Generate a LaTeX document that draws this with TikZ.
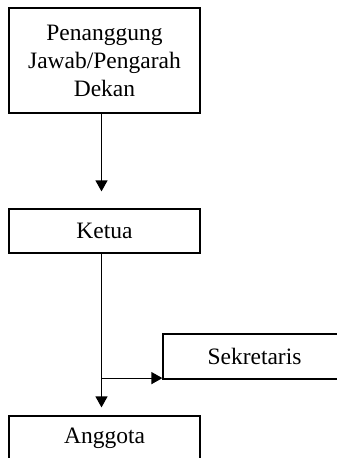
\documentclass[tikz,border=0pt]{standalone}
\usepackage{fontspec}
\setmainfont{Liberation Serif}
\usetikzlibrary{positioning}
\usetikzlibrary{arrows.meta}

\tikzset{
    box/.style={draw, line width=1.2pt, minimum width=191pt, inner sep=0pt, align=center,
        font=\fontsize{23.5}{28}\selectfont},
    arr/.style={line width=1.2pt, -{Triangle[width=12pt,length=11pt]}}
}

\begin{document}
\begin{tikzpicture}[x=1pt, y=-1pt]

    \useasboundingbox (0,0) rectangle (337,458);
    \clip (0,0) rectangle (337,458);

    % the boxes
    \node[box, minimum height=105pt] (pengarah) at (104.5,60.5) {Penanggung\\Jawab/Pengarah\\Dekan};
    \node[box, minimum height=44pt] (ketua) at (104.5,231) {Ketua};
    \node[box, minimum height=45pt, minimum width=200pt] (sekretaris) at (263,356.5) {\hspace*{-17pt}Sekretaris};
    \node[box, minimum height=44pt] (anggota) at (104.5,438) {Anggota};

    % the arrows
    \draw[arr] ([xshift=-3pt]pengarah.south) -- ([xshift=-3pt,yshift=17pt]ketua.north);
    \draw[arr] ([xshift=-3pt]ketua.south) -- ([xshift=-3pt,yshift=8pt]anggota.north);
    \coordinate (branch) at ([yshift=1.5pt]ketua.south |- sekretaris.south);
    \draw[arr] ([xshift=-3pt]branch) -- ([yshift=1.5pt]sekretaris.south west);

\end{tikzpicture}
\end{document}
